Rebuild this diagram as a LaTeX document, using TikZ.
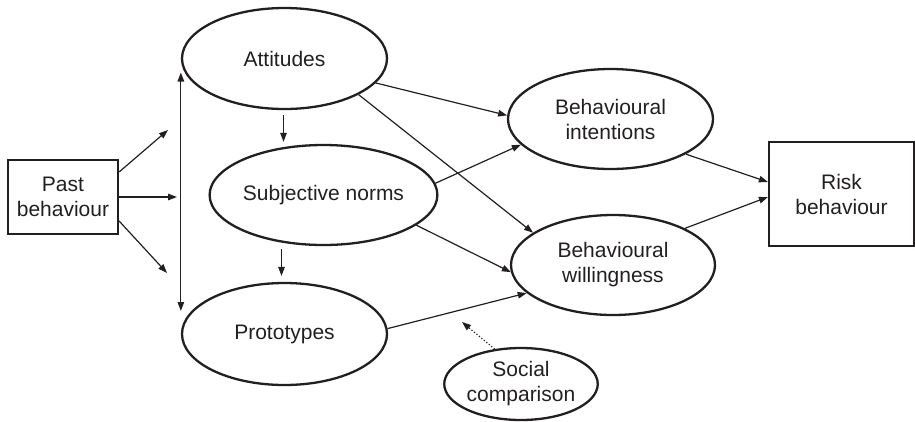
\documentclass[tikz,border=0pt]{standalone}
\usepackage{fontspec}
\setmainfont{Liberation Sans}
\usetikzlibrary{shapes.geometric,arrows.meta}
\definecolor{ink}{HTML}{231F20}
\tikzset{
  lbl/.style={font=\fontsize{21}{25}\selectfont, text=ink, align=center},
  ell/.style={lbl, ellipse, draw=ink, line width=2.3pt, inner sep=0pt},
  boxn/.style={lbl, rectangle, draw=ink, line width=2.2pt, inner sep=0pt},
  arr/.style={draw=ink, line width=1.2pt, -{Triangle[length=9pt,width=6.5pt]}},
  dblarr/.style={draw=ink, line width=1.2pt, {Triangle[length=9pt,width=6.5pt]}-{Triangle[length=9pt,width=6.5pt]}},
  dotarr/.style={draw=ink, line width=1.2pt, dotted, -{Triangle[length=9pt,width=6.5pt]}}
}
\begin{document}
\begin{tikzpicture}[x=1pt,y=-1pt]
\useasboundingbox (0,0) rectangle (915,421);
% nodes
\node[boxn, minimum width=110pt, minimum height=74pt] (past) at (63,197) {Past\\behaviour};
\node[boxn, minimum width=145pt, minimum height=104pt] (risk) at (841.5,194) {Risk\\behaviour};
\node[ell, minimum width=205pt, minimum height=101pt] (att) at (284.5,58.5) {Attitudes};
\node[ell, minimum width=203pt, minimum height=100pt] (sn) at (323.5,195) {Subjective norms};
\node[ell, minimum width=205pt, minimum height=102pt] (prot) at (284.5,334) {Prototypes};
\node[ell, minimum width=205pt, minimum height=100pt] (bi) at (610.5,119) {Behavioural\\intentions};
\node[ell, minimum width=204pt, minimum height=100pt] (bw) at (613,265) {Behavioural\\willingness};
\node[ell, minimum width=150pt, minimum height=72pt] (sc) at (521,384) {Social\\comparison};
% free ends
\coordinate (p1) at (168,130);
\coordinate (p2) at (177,197);
\coordinate (p3) at (167,273);
\coordinate (scend) at (462,322);
% past behaviour arrows
\draw[arr] ([yshift=25pt]past.east) -- (p1);
\draw[arr] (past.east) -- (p2);
\draw[arr] ([yshift=-24pt]past.east) -- (p3);
% vertical double arrow
\draw[dblarr] ([yshift=-14pt]att.west) -- ([yshift=23pt]prot.west);
% short vertical arrows
\draw[arr] ([yshift=-5pt,xshift=-1pt]att.south) -- ([yshift=2pt,xshift=-1pt]att.south |- sn.north);
\draw[arr] ([yshift=-3pt,xshift=-3pt]prot.north |- sn.south) -- ([yshift=6pt,xshift=-3pt]prot.north);
% to intentions / willingness
\draw[arr] (att.-15.4) -- (bi.178);
\draw[arr] (att.-26.9) -- (bw.158.2);
\draw[arr] (sn.6.8) -- (bi.-164.5);
\draw[arr] (sn.-18.8) -- (bw.184.5);
\draw[arr] (prot.3.3) -- (bw.198.2);
% to risk behaviour
\draw[arr] (bi.-25.9) -- ([yshift=12pt]risk.west);
\draw[arr] (bw.27.8) -- ([yshift=-3pt]risk.west);
% social comparison
\draw[dotarr] (sc.127) -- (scend);
\end{tikzpicture}
\end{document}
